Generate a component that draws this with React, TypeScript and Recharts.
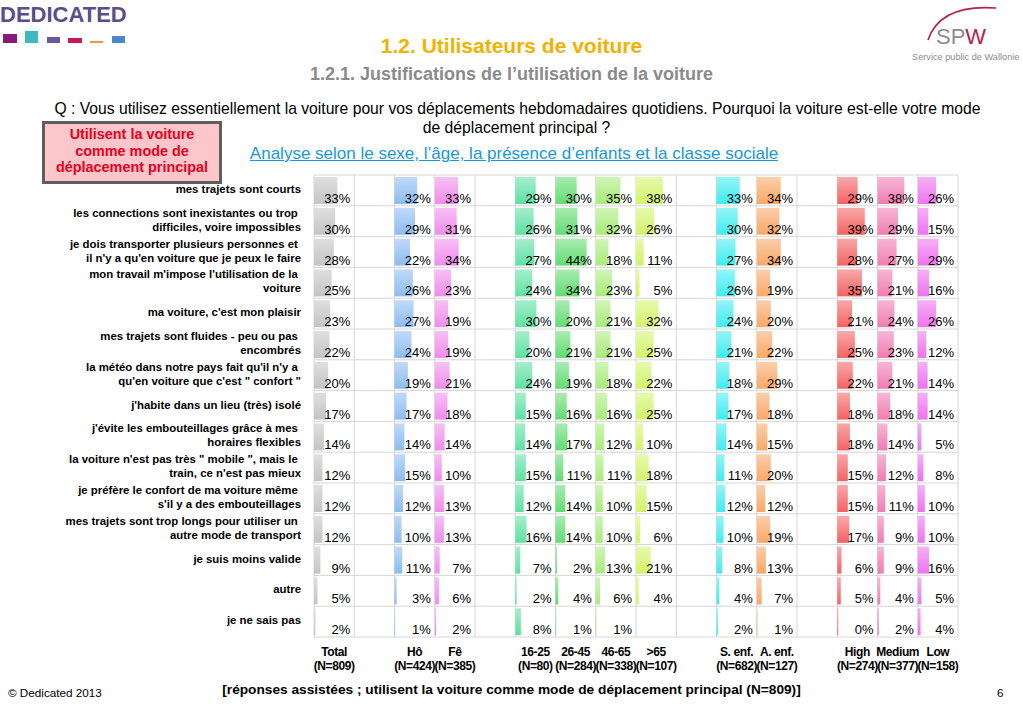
import React from 'react';
import { BarChart, Bar, XAxis, YAxis, CartesianGrid, LabelList } from 'recharts';

const FONT = "'Liberation Sans', Arial, Helvetica, sans-serif";

// reasons (rows), with the line breaks of the slide
const reasons = [
  'mes trajets sont courts',
  'les connections sont inexistantes ou trop \ndifficiles, voire impossibles',
  'je dois transporter plusieurs personnes et \nil n\'y a qu\'en voiture que je peux le faire',
  'mon travail m\'impose l\'utilisation de la \nvoiture',
  'ma voiture, c\'est mon plaisir',
  'mes trajets sont fluides - peu ou pas \nencombrés',
  'la météo dans notre pays fait qu\'il n\'y a \nqu\'en voiture que c\'est " confort "',
  'j\'habite dans un lieu (très) isolé',
  'j\'évite les embouteillages grâce à mes \nhoraires flexibles',
  'la voiture n\'est pas très " mobile ", mais le \ntrain, ce n\'est pas mieux',
  'je préfère le confort de ma voiture même \ns\'il y a des embouteillages',
  'mes trajets sont trop longs pour utiliser un \nautre mode de transport',
  'je suis moins valide',
  'autre',
  'je ne sais pas',
];

// series values (%)
const total = [33, 30, 28, 25, 23, 22, 20, 17, 14, 12, 12, 12, 9, 5, 2];
const homme = [32, 29, 22, 26, 27, 24, 19, 17, 14, 15, 12, 10, 11, 3, 1];
const femme = [33, 31, 34, 23, 19, 19, 21, 18, 14, 10, 13, 13, 7, 6, 2];
const age16_25 = [29, 26, 27, 24, 30, 20, 24, 15, 14, 15, 12, 16, 7, 2, 8];
const age26_45 = [30, 31, 44, 34, 20, 21, 19, 16, 17, 11, 14, 14, 2, 4, 1];
const age46_65 = [35, 32, 18, 23, 21, 21, 18, 16, 12, 11, 10, 10, 13, 6, 1];
const age65plus = [38, 26, 11, 5, 32, 25, 22, 25, 10, 18, 15, 6, 21, 4, null];
const sansEnfant = [33, 30, 27, 26, 24, 21, 18, 17, 14, 11, 12, 10, 8, 4, 2];
const avecEnfant = [34, 32, 34, 19, 20, 22, 29, 18, 15, 20, 12, 19, 13, 7, 1];
const classHigh = [29, 39, 28, 35, 21, 25, 22, 18, 18, 15, 15, 17, 6, 5, 0];
const classMedium = [38, 29, 27, 21, 24, 23, 21, 18, 14, 12, 11, 9, 9, 4, 2];
const classLow = [26, 15, 29, 16, 26, 12, 14, 14, 5, 8, 10, 10, 16, 5, 4];

// column headers (bottom tick labels)
const columnNames = ['Total', 'Hô', 'Fê', '16-25', '26-45', '46-65', '>65', 'S. enf.', 'A. enf.', 'High', 'Medium', 'Low'];
const columnN = ['(N=809)', '(N=424)', '(N=385)', '(N=80)', '(N=284)', '(N=338)', '(N=107)', '(N=682)', '(N=127)', '(N=274)', '(N=377)', '(N=158)'];
// which of the 16 table cells each column occupies
const columnSlots = [0, 2, 3, 5, 6, 7, 8, 10, 11, 13, 14, 15];
const columnColors = ['#c4c4c4', '#8cbcf2', '#f08cec', '#5ee0a2', '#62dc72', '#a8ec7a', '#d2f46a', '#3eecf0', '#f8a866', '#f46262', '#f07cb2', '#ee72f0'];

const series = [total, homme, femme, age16_25, age26_45, age46_65, age65plus, sansEnfant, avecEnfant, classHigh, classMedium, classLow];

const rows = reasons.map((reason, i) => {
  const row: Record<string, string | number | null> = { reason };
  series.forEach((s, k) => {
    row[`s${k}`] = s[i];
  });
  return row;
});

const SLOTS = 16;
const PCT_PER_CELL = 57;
const PLOT_LEFT = 314;
const PLOT_RIGHT = 958;
const PLOT_TOP = 175;
const PLOT_BOTTOM = 637;
const CHART_W = 1023;
const CHART_H = 708;
const X_AXIS_H = 40;
const CELL_PX = (PLOT_RIGHT - PLOT_LEFT) / SLOTS;

const lighten = (hex: string, t: number) => {
  const n = parseInt(hex.slice(1), 16);
  const r = (n >> 16) & 255;
  const g = (n >> 8) & 255;
  const b = n & 255;
  const f = (c: number) => Math.round(c + (255 - c) * t);
  return `rgb(${f(r)},${f(g)},${f(b)})`;
};

const ReasonTick = (props: any) => {
  const { x, y, payload } = props;
  const lines = String(payload.value).split('\n');
  const start = y + 2.5 - (lines.length - 1) * 7;
  return (
    <text x={x} y={start} textAnchor="end" fontFamily={FONT} fontSize={11.4} fontWeight="bold" fill="#000">
      {lines.map((l, i) => (
        <tspan key={i} x={x} y={start + i * 14} style={{ whiteSpace: 'pre' }}>
          {l}
        </tspan>
      ))}
    </text>
  );
};

const ColumnTick = (props: any) => {
  const { x, y, payload } = props;
  const idx = columnSlots.indexOf(Math.floor(payload.value));
  if (idx < 0) return null;
  return (
    <text textAnchor="middle" fontFamily={FONT} fontSize={12} fontWeight="bold" fill="#000" letterSpacing={-0.4}>
      <tspan x={x} y={y + 11}>{columnNames[idx]}</tspan>
      <tspan x={x} y={y + 25}>{columnN[idx]}</tspan>
    </text>
  );
};

const renderPct = (props: any) => {
  const { x, y, height, value } = props;
  if (value === null || value === undefined) return null;
  return (
    <text
      x={Number(x) + CELL_PX - 4}
      y={Number(y) + Number(height) - 1}
      textAnchor="end"
      fontFamily={FONT}
      fontSize={13}
      fill="#000"
    >
      {`${value}%`}
    </text>
  );
};

const abs = (left: number, top: number, extra: React.CSSProperties = {}): React.CSSProperties => ({
  position: 'absolute',
  left,
  top,
  fontFamily: FONT,
  whiteSpace: 'nowrap',
  ...extra,
});

export default function App() {
  return (
    <div style={{ position: 'absolute', left: 0, top: 0, width: CHART_W, height: CHART_H, background: '#fff', overflow: 'hidden' }}>
      <div style={{ position: 'absolute', left: 0, top: 0 }}>
        <BarChart
          width={CHART_W}
          height={CHART_H}
          data={rows}
          layout="vertical"
          barCategoryGap={2}
          margin={{ top: PLOT_TOP, right: CHART_W - PLOT_RIGHT, bottom: CHART_H - PLOT_BOTTOM - X_AXIS_H, left: 4 }}
        >
          <defs>
            {columnColors.map((c, i) => (
              <linearGradient key={i} id={`g${i}`} x1="0" y1="0" x2="0" y2="1">
                <stop offset="0%" stopColor={lighten(c, 0.45)} />
                <stop offset="100%" stopColor={c} />
              </linearGradient>
            ))}
          </defs>
          <CartesianGrid
            xAxisId="cols"
            yAxisId="y0"
            stroke="#d6d6d6"
            verticalCoordinatesGenerator={({ offset }: any) =>
              Array.from({ length: SLOTS + 1 }, (_, i) => offset.left + (i * offset.width) / SLOTS)
            }
            horizontalCoordinatesGenerator={({ offset }: any) =>
              Array.from({ length: reasons.length + 1 }, (_, i) => offset.top + (i * offset.height) / reasons.length)
            }
          />
          <XAxis
            xAxisId="cols"
            type="number"
            domain={[0, SLOTS]}
            allowDataOverflow
            ticks={columnSlots.map((s) => s + 0.5)}
            interval={0}
            height={X_AXIS_H}
            axisLine={false}
            tickLine={false}
            tick={<ColumnTick />}
          />
          {columnSlots.map((slot, k) => (
            <XAxis
              key={`x${k}`}
              xAxisId={`x${k}`}
              type="number"
              hide
              allowDataOverflow
              domain={[-slot * PCT_PER_CELL, (SLOTS - slot) * PCT_PER_CELL]}
            />
          ))}
          {columnSlots.map((slot, k) => (
            <YAxis
              key={`y${k}`}
              yAxisId={`y${k}`}
              type="category"
              dataKey="reason"
              hide={k !== 0}
              width={310}
              axisLine={false}
              tickLine={false}
              tickSize={0}
              tickMargin={13}
              interval={0}
              tick={k === 0 ? <ReasonTick /> : false}
            />
          ))}
          {columnSlots.map((slot, k) => (
            <Bar
              key={`b${k}`}
              dataKey={`s${k}`}
              xAxisId={`x${k}`}
              yAxisId={`y${k}`}
              fill={`url(#g${k})`}
              minPointSize={(v: any) => (v === 0 ? 1 : 0)}
              isAnimationActive={false}
            >
              <LabelList dataKey={`s${k}`} content={renderPct} />
            </Bar>
          ))}
        </BarChart>
      </div>

      {/* DEDICATED logo */}
      <div style={abs(0, 2, { fontSize: 22, fontWeight: 'bold', color: '#5b4c8c', letterSpacing: 0 })}>DEDICATED</div>
      <div style={{ position: 'absolute', left: 3, top: 34, width: 14, height: 9, background: '#8a1a7a' }} />
      <div style={{ position: 'absolute', left: 25, top: 31, width: 13, height: 12, background: '#40b8c0' }} />
      <div style={{ position: 'absolute', left: 47, top: 37, width: 13, height: 6, background: '#6a58a0' }} />
      <div style={{ position: 'absolute', left: 68, top: 38, width: 14, height: 5, background: '#c8185a' }} />
      <div style={{ position: 'absolute', left: 90, top: 41, width: 13, height: 2, background: '#f09838' }} />
      <div style={{ position: 'absolute', left: 112, top: 36, width: 13, height: 7, background: '#4a88c8' }} />

      {/* SPW logo */}
      <svg style={{ position: 'absolute', left: 900, top: 0 }} width={123} height={70}>
        <path d="M28 40 Q 40 4 96 8" fill="none" stroke="#b8204a" strokeWidth={1.6} />
        <text x={36} y={44} fontFamily={FONT} fontSize={22} fill="#8c8c8c" fontWeight="normal">
          SP<tspan fill="#b8204a">W</tspan>
        </text>
        <text x={12} y={60} fontFamily={FONT} fontSize={9.2} fill="#8c8c8c">Service public de Wallonie</text>
      </svg>

      {/* titles */}
      <div style={abs(0, 33, { width: CHART_W, textAlign: 'center', fontSize: 21, fontWeight: 'bold', color: '#f2b200', lineHeight: '26px' })}>
        1.2. Utilisateurs de voiture
      </div>
      <div style={abs(0, 63, { width: CHART_W, textAlign: 'center', fontSize: 18, fontWeight: 'bold', color: '#8a8a8a', lineHeight: '22px' })}>
        1.2.1. Justifications de l’utilisation de la voiture
      </div>
      <div style={abs(0, 99, { width: CHART_W, textAlign: 'center', fontSize: 15.7, color: '#000', lineHeight: '19px' })}>
        <div style={{ paddingLeft: 12 }}>
          Q : Vous utilisez essentiellement la voiture pour vos déplacements hebdomadaires quotidiens. Pourquoi la voiture est-elle votre mode
        </div>
        <div style={{ paddingLeft: 10 }}>de déplacement principal ?</div>
      </div>
      <div
        style={abs(0, 143, {
          width: CHART_W,
          textAlign: 'center',
          fontSize: 17,
          lineHeight: '21px',
          color: '#1898d8',
          textDecoration: 'underline',
          paddingLeft: 5,
          boxSizing: 'border-box',
        })}
      >
        Analyse selon le sexe, l’âge, la présence d’enfants et la classe sociale
      </div>

      {/* red box */}
      <div
        style={abs(42, 121, {
          width: 174,
          height: 55,
          background: '#fcc6ca',
          border: '3px solid #5e5e5e',
          color: '#e8001c',
          fontSize: 14.4,
          fontWeight: 'bold',
          textAlign: 'center',
          lineHeight: '16.7px',
          paddingTop: 2,
          boxSizing: 'content-box',
          whiteSpace: 'normal',
        })}
      >
        Utilisent la voiture
        <br />
        comme mode de
        <br />
        déplacement principal
      </div>

      {/* footer */}
      <div style={abs(8, 686, { fontSize: 11.7, color: '#000' })}>© Dedicated 2013</div>
      <div style={abs(0, 682, { width: CHART_W, textAlign: 'center', fontSize: 13.7, fontWeight: 'bold', color: '#000' })}>
        [réponses assistées ; utilisent la voiture comme mode de déplacement principal (N=809)]
      </div>
      <div style={abs(997, 686, { fontSize: 11.7, color: '#000' })}>6</div>
    </div>
  );
}
